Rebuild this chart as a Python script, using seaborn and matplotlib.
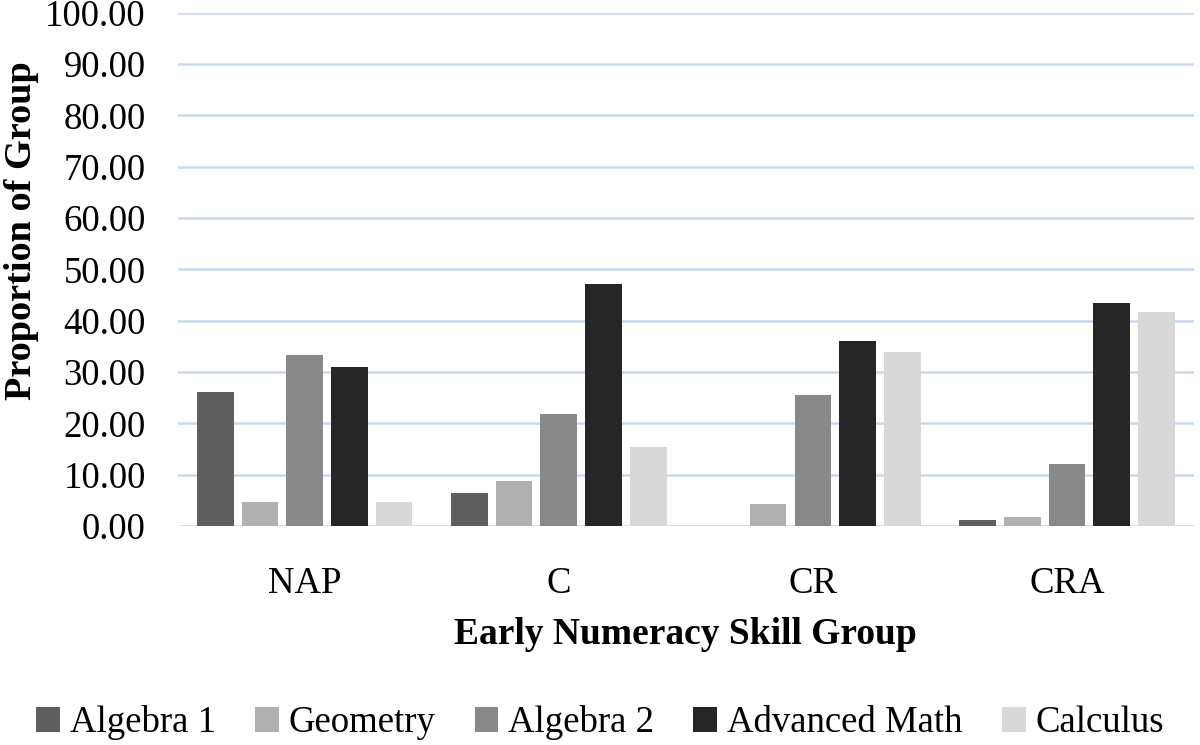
import seaborn as sns
import pandas as pd
import matplotlib.pyplot as plt

groups = ["NAP", "C", "CR", "CRA"]
courses = ["Algebra 1", "Geometry", "Algebra 2", "Advanced Math", "Calculus"]

algebra1 = [26.1, 6.4, 0.0, 1.1]
geometry = [4.65, 8.8, 4.3, 1.7]
algebra2 = [33.3, 21.9, 25.6, 12.0]
advanced_math = [31.0, 47.2, 36.0, 43.5]
calculus = [4.65, 15.3, 33.8, 41.6]

colors = ["#5f5f5f", "#b0b0b0", "#898989", "#262626", "#d8d8d8"]

rows = []
for course, vals in zip(courses, [algebra1, geometry, algebra2, advanced_math, calculus]):
    for g, v in zip(groups, vals):
        rows.append({"group": g, "course": course, "value": v})
df = pd.DataFrame(rows)

sns.set_style("white")
plt.rcParams["font.family"] = ["Liberation Serif", "DejaVu Serif"]
plt.rcParams["text.color"] = "black"
plt.rcParams["axes.labelcolor"] = "black"
plt.rcParams["xtick.color"] = "black"
plt.rcParams["ytick.color"] = "black"

fs = 26.5

fig, ax = plt.subplots(figsize=(12, 7.45), dpi=100)
fig.subplots_adjust(left=0.148, right=0.995, top=0.983, bottom=0.294)

sns.barplot(data=df, x="group", y="value", hue="course", order=groups,
            hue_order=courses, palette=colors, width=0.88, gap=0.18,
            linewidth=0, ax=ax, legend=True)

ax.set_ylim(0, 100)
ax.set_yticks(range(0, 101, 10))
ax.set_yticklabels([f"{v:.2f}" for v in range(0, 101, 10)], fontsize=fs)
ax.tick_params(axis="x", labelsize=fs, pad=29)
ax.tick_params(axis="y", pad=23)
ax.tick_params(length=0)
ax.grid(axis="y", color="#c9d8ef", linewidth=1.8)
ax.set_axisbelow(True)
for s in ax.spines.values():
    s.set_visible(False)

ax.set_xlabel("Early Numeracy Skill Group", fontsize=27, fontweight="bold", labelpad=12)
ax.set_ylabel("Proportion of Group", fontsize=27.5, fontweight="bold")
ax.yaxis.set_label_coords(-0.136, 0.575)

handles, labels = ax.get_legend_handles_labels()
ax.legend_.remove()
fig.legend(handles, labels, loc="center", bbox_to_anchor=(0.5, 1 - 723 / 745), ncol=5,
           frameon=False, fontsize=fs, handlelength=0.65, handleheight=0.65,
           handletextpad=0.27, columnspacing=1.06)

fig.savefig("out.png", dpi=100)
